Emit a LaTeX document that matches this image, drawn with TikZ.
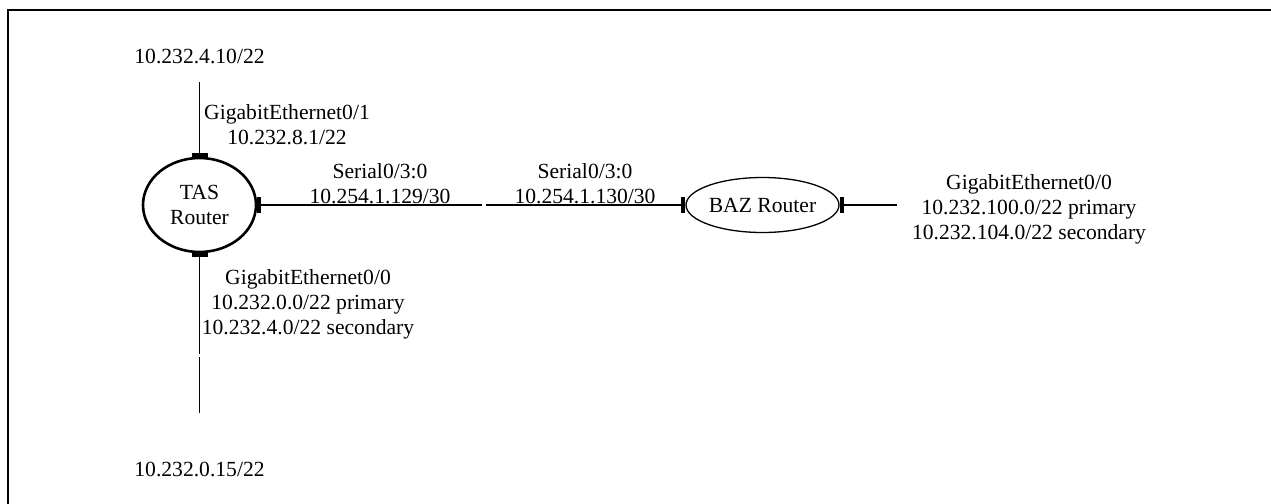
\documentclass[tikz,border=0pt]{standalone}
\usepackage{fontspec}
\setmainfont{Liberation Serif}
\usepackage{tikz}
\usetikzlibrary{shapes.geometric,arrows.meta}
\tikzstyle{Router}=[ellipse, draw=black, align=center, inner sep=0pt]
\tikzstyle{Label}=[align=center, inner sep=0pt]
\tikzstyle{Link}=[line width=0.65pt]
\tikzstyle{Tee}=[{Rectangle[length=2pt,width=8pt]}-]

\begin{document}
\begin{tikzpicture}[x=0.5pt,y=-0.5pt,font=\fontsize{10.8}{12.5}\selectfont]
    \useasboundingbox (0,0) rectangle (1271,504);
    \draw[line width=0.8pt] (8,504) -- (8,10) -- (1271,10);

    \path
    (199.5,205) node[Router, line width=1.3pt, minimum width=56.5pt, minimum height=47pt] (tas) {TAS\\Router}
    (762.5,205) node[Router, line width=0.65pt, minimum width=76.5pt, minimum height=27.5pt] (baz) {BAZ Router};

    \path (199.5,56) node[Label] (ipTop) {10.232.4.10/22}
    (287,124.5) node[Label] (giTas01) {GigabitEthernet0/1\\10.232.8.1/22}
    (380,183.5) node[Label] (serTas) {Serial0/3:0\\10.254.1.129/30}
    (585,183.5) node[Label] (serBaz) {Serial0/3:0\\10.254.1.130/30}
    (308,304) node[Label] (giTas00) {GigabitEthernet0/0\\10.232.0.0/22 primary\\10.232.4.0/22 secondary}
    (1029,209) node[Label] (giBaz00) {GigabitEthernet0/0\\10.232.100.0/22 primary\\10.232.104.0/22 secondary}
    (199.5,469) node[Label] (ipBot) {10.232.0.15/22};

    \coordinate (topEnd) at (199.5,82);
    \coordinate (gapA) at (199.5,354);
    \coordinate (gapB) at (199.5,357);
    \coordinate (botEnd) at (199.5,413);
    \coordinate (serA) at (482,205);
    \coordinate (serB) at (486,205);
    \coordinate (bazEnd) at (897,205);

    \draw[Link, Tee] (tas) -- (topEnd);
    \draw[Link, Tee] (tas) -- (gapA);
    \draw[Link] (gapB) -- (botEnd);
    \draw[Link, Tee] (tas) -- (serA);
    \draw[Link, -{Rectangle[length=2pt,width=8pt]}] (serB) -- (baz);
    \draw[Link, Tee] (baz) -- (bazEnd);
\end{tikzpicture}
\end{document}
